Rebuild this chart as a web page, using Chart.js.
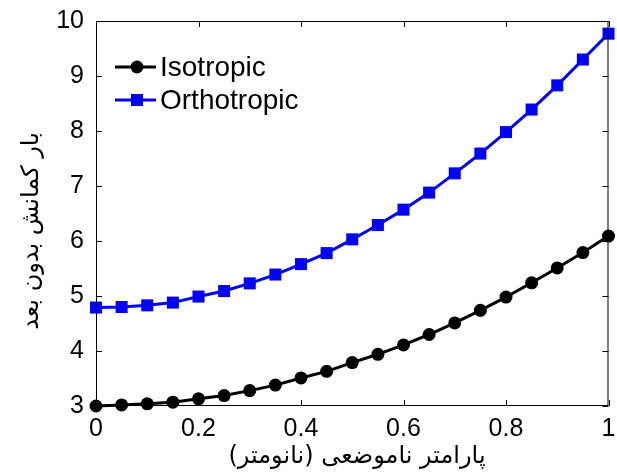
<!DOCTYPE html>
<html>
<head>
<meta charset="utf-8">
<script src="https://cdn.jsdelivr.net/npm/chart.js@4.4.0/dist/chart.umd.min.js"></script>
<style>
  html, body { margin: 0; padding: 0; background: #fff; }
  #wrap { width: 617px; height: 472px; }
</style>
</head>
<body>
<div id="wrap"><canvas id="myChart" width="617" height="472"></canvas></div>
<script>
// values
const xValues = [0, 0.05, 0.1, 0.15, 0.2, 0.25, 0.3, 0.35, 0.4, 0.45, 0.5,
                 0.55, 0.6, 0.65, 0.7, 0.75, 0.8, 0.85, 0.9, 0.95, 1];
const isotropic = [3.00, 3.02, 3.04, 3.07, 3.13, 3.19, 3.28, 3.38, 3.51, 3.63, 3.79,
                   3.94, 4.11, 4.30, 4.51, 4.74, 4.98, 5.24, 5.51, 5.79, 6.09];
const orthotropic = [4.79, 4.80, 4.83, 4.88, 4.99, 5.09, 5.23, 5.39, 5.58, 5.78, 6.03,
                     6.29, 6.57, 6.88, 7.23, 7.59, 7.98, 8.39, 8.83, 9.30, 9.77];
const xTicks = [0, 0.2, 0.4, 0.6, 0.8, 1];
const yTicks = [3, 4, 5, 6, 7, 8, 9, 10];
const seriesNames = ['Isotropic', 'Orthotropic'];
const xTitle = 'پارامتر ناموضعی (نانومتر)';
const yTitle = 'بار کمانش بدون بعد';

const toPoints = ys => xValues.map((x, i) => ({ x: x, y: ys[i] }));

// box, inward ticks, legend and axis titles
const decorations = {
  id: 'decorations',
  afterDraw(chart) {
    const ctx = chart.ctx;
    const a = chart.chartArea;
    const xs = chart.scales.x, ys = chart.scales.y;
    ctx.save();
    ctx.strokeStyle = '#000';
    ctx.lineWidth = 1;
    ctx.strokeRect(a.left + 0.5, a.top + 0.5, a.right - a.left - 1, a.bottom - a.top - 1);
    ctx.beginPath();
    xTicks.forEach(v => {
      const px = Math.round(xs.getPixelForValue(v)) + 0.5;
      ctx.moveTo(px, a.bottom); ctx.lineTo(px, a.bottom - 6);
      ctx.moveTo(px, a.top); ctx.lineTo(px, a.top + 6);
    });
    yTicks.forEach(v => {
      const py = Math.round(ys.getPixelForValue(v)) + 0.5;
      ctx.moveTo(a.left, py); ctx.lineTo(a.left + 6, py);
      ctx.moveTo(a.right, py); ctx.lineTo(a.right - 6, py);
    });
    ctx.stroke();

    // legend
    const rows = [67, 100];
    chart.data.datasets.forEach((ds, i) => {
      const y = rows[i];
      ctx.strokeStyle = ds.borderColor;
      ctx.lineWidth = 3;
      ctx.beginPath();
      ctx.moveTo(115, y); ctx.lineTo(156, y);
      ctx.stroke();
      ctx.fillStyle = ds.backgroundColor;
      if (ds.pointStyle === 'rect') {
        ctx.fillRect(137 - 6, y - 6, 12, 12);
      } else {
        ctx.beginPath();
        ctx.arc(137, y, 6.5, 0, Math.PI * 2);
        ctx.fill();
      }
      ctx.fillStyle = '#000';
      ctx.font = '28px "Liberation Sans", Arial, sans-serif';
      ctx.textBaseline = 'middle';
      ctx.textAlign = 'left';
      ctx.fillText(ds.label, 160, y + 1);
    });

    // axis titles
    ctx.fillStyle = '#000';
    ctx.font = '24px "DejaVu Sans", sans-serif';
    ctx.textAlign = 'center';
    ctx.textBaseline = 'middle';
    ctx.fillText(xTitle, 357, 457);
    ctx.translate(32, 231);
    ctx.rotate(-Math.PI / 2);
    ctx.fillText(yTitle, 0, 0);
    ctx.restore();
  }
};

const ctx = document.getElementById('myChart').getContext('2d');
new Chart(ctx, {
  type: 'line',
  data: {
    datasets: [
      {
        label: seriesNames[0],
        data: toPoints(isotropic),
        borderColor: '#000000',
        backgroundColor: '#000000',
        borderWidth: 3,
        pointStyle: 'circle',
        pointRadius: 6.5,
        pointBorderWidth: 0,
        tension: 0,
        clip: false
      },
      {
        label: seriesNames[1],
        data: toPoints(orthotropic),
        borderColor: '#0000ff',
        backgroundColor: '#0000ff',
        borderWidth: 3,
        pointStyle: 'rect',
        pointRadius: 8.5,
        pointBorderWidth: 0,
        tension: 0,
        clip: false
      }
    ]
  },
  options: {
    responsive: false,
    animation: false,
    layout: { padding: { top: 21, right: 5, left: 0, bottom: 0 } },
    plugins: { legend: { display: false }, tooltip: { enabled: false } },
    scales: {
      x: {
        type: 'linear',
        min: 0, max: 1,
        grid: { display: false },
        border: { display: false },
        afterBuildTicks: s => { s.ticks = xTicks.map(v => ({ value: v })); },
        afterFit: s => { s.height = 66; s.paddingLeft = 0; s.paddingRight = 0; },
        ticks: {
          color: '#000',
          padding: 0,
          maxRotation: 0,
          font: { family: '"Liberation Sans", Arial, sans-serif', size: 25 },
          callback: v => String(v)
        }
      },
      y: {
        min: 3, max: 10,
        grid: { display: false },
        border: { display: false },
        afterBuildTicks: s => { s.ticks = yTicks.map(v => ({ value: v })); },
        afterFit: s => { s.width = 96; s.paddingTop = 0; s.paddingBottom = 0; },
        ticks: {
          color: '#000',
          padding: 4,
          font: { family: '"Liberation Sans", Arial, sans-serif', size: 25 }
        }
      }
    }
  },
  plugins: [decorations]
});
</script>
</body>
</html>
